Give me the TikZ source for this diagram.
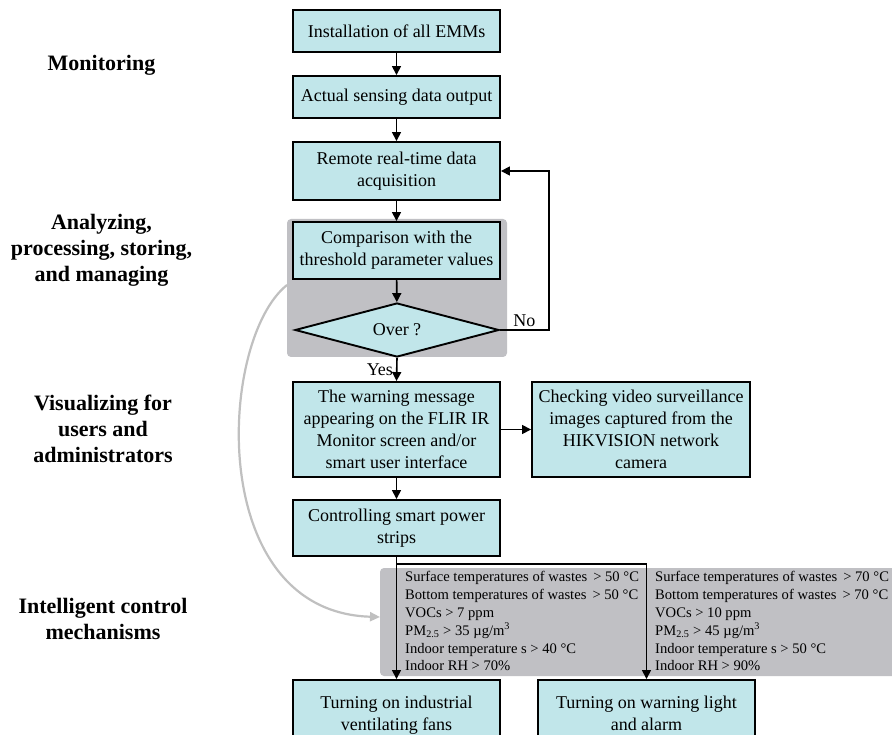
\documentclass[tikz,border=0pt]{standalone}
\usepackage{fontspec}
\setmainfont{Liberation Serif}
\usetikzlibrary{arrows.meta,shapes.geometric}
\definecolor{boxfill}{RGB}{193,230,234}
\definecolor{panel}{RGB}{192,192,196}
\definecolor{curvegray}{RGB}{192,192,192}
\begin{document}
\begin{tikzpicture}[x=1pt,y=-1pt,
  box/.style={draw=black, line width=1.9pt, fill=boxfill, align=center, font=\fontsize{18}{22}\selectfont, inner sep=0pt, minimum width=207pt},
  arr/.style={line width=1.6pt, -{Triangle[length=9pt,width=9pt]}},
  lbl/.style={align=center, font=\fontsize{22}{26}\selectfont\bfseries},
  cond/.style={align=left, anchor=north west, inner sep=0pt, font=\fontsize{14.6}{17.9}\selectfont},
  panelbox/.style={fill=panel, rounded corners=4pt, draw=none, inner sep=0pt},
  tag/.style={font=\fontsize{18}{22}\selectfont, inner sep=3pt}]
\useasboundingbox (0,0) rectangle (892,735);
\fill[white] (0,0) rectangle (892,735);

% panels
\node[panelbox, minimum width=220pt, minimum height=138pt] (p1) at (397,288) {};
\node[panelbox, minimum width=520pt, minimum height=108pt] (p2) at (640,622) {};

% left labels
\node[lbl] (l1) at (101.5,65) {Monitoring};
\node[lbl] (l2) at (101.5,250) {Analyzing,\\processing, storing,\\and managing};
\node[lbl] (l3) at (103,429) {Visualizing for\\users and\\administrators};
\node[lbl] (l4) at (103,619) {Intelligent control\\mechanisms};

% boxes
\node[box, minimum height=42pt] (b1) at (396.5,31) {Installation of all EMMs};
\node[box, minimum height=42pt] (b2) at (396.5,97) {Actual sensing data output};
\node[box, minimum height=58pt] (b3) at (396.5,171) {Remote real-time data\\acquisition};
\node[box, minimum height=57pt] (b4) at (396.5,250.5) {Comparison with the\\threshold parameter values};
\node[diamond, draw=black, line width=1.9pt, fill=boxfill, minimum width=204pt, minimum height=54pt, inner sep=0pt, aspect=3.8, font=\fontsize{18}{22}\selectfont] (d) at (397,330) {Over ?};
\node[box, minimum height=95pt] (b5) at (396.5,429.5) {The warning message\\appearing on the FLIR IR\\Monitor screen and/or\\smart user interface};
\node[box, minimum width=218pt, minimum height=95pt] (b6) at (641,429.5) {Checking video surveillance\\images captured from the\\HIKVISION network\\camera};
\node[box, minimum height=56pt] (b7) at (396.5,528) {Controlling smart power\\strips};
\node[box, minimum height=70pt] (b8) at (396.5,715) {Turning on industrial\\ventilating fans};
\node[box, minimum width=217pt, minimum height=70pt] (b9) at (646.5,715) {Turning on warning light\\and alarm\vphantom{g}};

% conditions
\node[cond] (c1) at (405,571) {Surface temperatures of wastes \,> 50 °C\\Bottom temperatures of wastes \,> 50 °C\\VOCs > 7 ppm\\PM\textsubscript{2.5} > 35 µg/m\textsuperscript{3}\\Indoor temperature s > 40 °C\\Indoor RH > 70\%};
\node[cond] (c2) at (655,571) {Surface temperatures of wastes \,> 70 °C\\Bottom temperatures of wastes \,> 70 °C\\VOCs > 10 ppm\\PM\textsubscript{2.5} > 45 µg/m\textsuperscript{3}\\Indoor temperature s > 50 °C\\Indoor RH > 90\%};

% connectors
\draw[arr] (b1) -- (b2);
\draw[arr] (b2) -- (b3);
\draw[arr] (b3) -- (b4);
\draw[arr] (b4) -- (d);
\draw[arr] (d.south) -- node[tag, midway, left] {Yes} (b5.north);
\draw[arr] (d.east) -- node[tag, midway, above] {No} ++(49,0) |- (b3.east);
\draw[arr] (b5) -- (b6);
\draw[arr] (b5) -- (b7);
\draw[arr] (b7) -- (b8);
\path (b7.south) ++(0,7) coordinate (br);
\draw[arr] (br) -| (b9.north);

% gray curve
\coordinate (cs) at (287,285);
\coordinate (ce) at (380,617);
\draw[curvegray, line width=2.2pt, -{Triangle[length=10pt,width=9pt]}] (cs) .. controls (218,340) and (205,612) .. (ce);
\end{tikzpicture}
\end{document}
